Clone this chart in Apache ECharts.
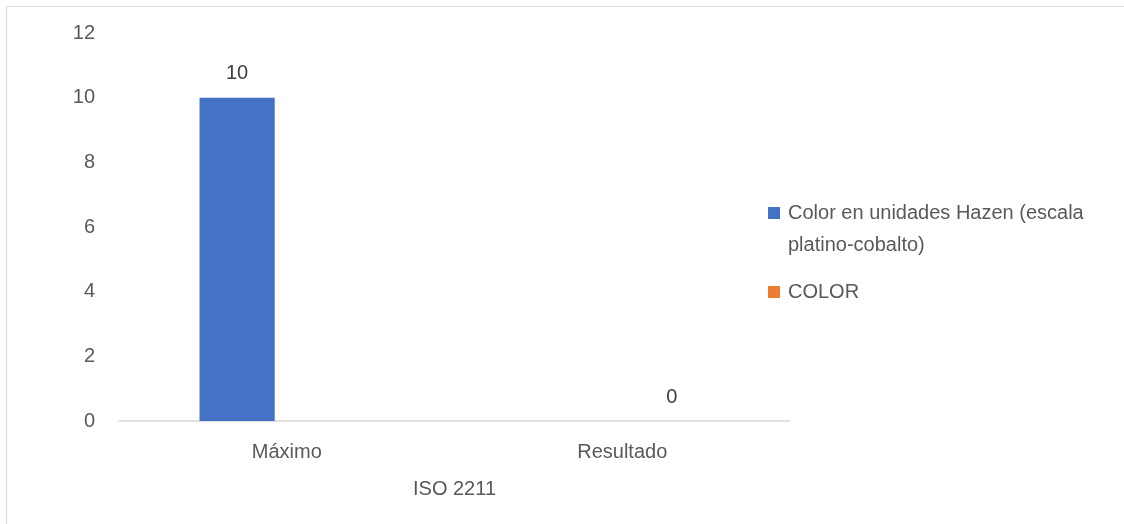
<!DOCTYPE html>
<html>
<head>
<meta charset="utf-8">
<script src="https://cdn.jsdelivr.net/npm/echarts@6/dist/echarts.min.js"></script>
<style>
  html, body { margin: 0; padding: 0; background: #fff; }
  #chart { width: 1124px; height: 524px; }
</style>
</head>
<body>
<div id="chart"></div>
<script>
// data
const categories = ['Máximo', 'Resultado'];
const seriesNames = ['Color en unidades Hazen (escala\nplatino-cobalto)', 'COLOR'];
const hazenValues = [10, '-'];
const colorValues = ['-', 0];
const yTicks = { min: 0, max: 12, interval: 2 };
const xAxisName = 'ISO 2211';

const FONT = 'Liberation Sans';
const TEXT = '#595959';
const FS = 20;

const chart = echarts.init(document.getElementById('chart'));

const option = {
  animation: false,
  backgroundColor: '#fff',
  textStyle: { fontFamily: FONT },
  graphic: [{
    type: 'rect',
    shape: { x: 6.5, y: 6.5, width: 1300, height: 700 },
    style: { fill: 'none', stroke: '#d9d9d9', lineWidth: 1 },
    silent: true
  }],
  grid: { left: 119, right: 334, top: 33, bottom: 103 },
  legend: {
    orient: 'vertical',
    left: 768,
    top: 165,
    padding: 0,
    itemWidth: 12,
    itemHeight: 12,
    itemGap: 15,
    icon: 'rect',
    // empty first line keeps the icon level with the first text line
    formatter: name => (name === seriesNames[0] ? ' \n' + name : name),
    textStyle: { color: TEXT, fontSize: FS, fontFamily: FONT, lineHeight: 32, padding: [0, 0, 0, 3] },
    data: seriesNames
  },
  xAxis: {
    type: 'category',
    data: categories,
    name: xAxisName,
    nameLocation: 'middle',
    nameGap: 58,
    nameTextStyle: { color: TEXT, fontSize: FS, fontFamily: FONT },
    axisLine: { lineStyle: { color: '#d9d9d9', width: 1.5 } },
    axisTick: { show: false },
    axisLabel: { color: TEXT, fontSize: FS, margin: 21, fontFamily: FONT }
  },
  yAxis: {
    type: 'value',
    min: yTicks.min,
    max: yTicks.max,
    interval: yTicks.interval,
    axisLine: { show: false },
    axisTick: { show: false },
    splitLine: { show: false },
    axisLabel: { color: TEXT, fontSize: FS, margin: 24, fontFamily: FONT }
  },
  series: [
    {
      name: seriesNames[0],
      type: 'bar',
      data: hazenValues,
      barGap: '32%',
      barCategoryGap: '48%',
      itemStyle: { color: '#4472C4' },
      label: { show: true, position: 'top', distance: 14, color: '#404040', fontSize: FS, fontFamily: FONT }
    },
    {
      name: seriesNames[1],
      type: 'bar',
      data: colorValues,
      itemStyle: { color: '#ED7D31' },
      label: { show: true, position: 'top', distance: 14, color: '#404040', fontSize: FS, fontFamily: FONT }
    }
  ]
};

chart.setOption(option);
</script>
</body>
</html>
